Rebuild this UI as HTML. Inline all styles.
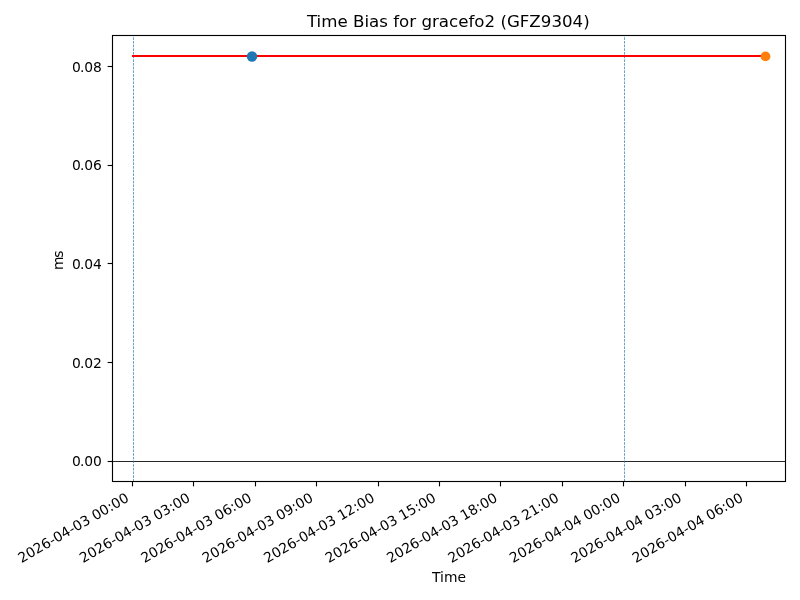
<!DOCTYPE html>
<html lang="en">
<head>
<meta charset="utf-8">
<title>Time Bias for gracefo2 (GFZ9304)</title>
<style>
html,body{margin:0;padding:0;background:#fff;}
body{width:800px;height:600px;overflow:hidden;}
svg{display:block;}
svg text{font-family:'DejaVu Sans', 'Liberation Sans', sans-serif;fill:#000;}
.t10{font-size:13.889px;}
.t12{font-size:16.667px;}
</style>
</head>
<body>
<svg width="800" height="600" viewBox="0 0 800 600">
<rect x="0" y="0" width="800" height="600" fill="#ffffff"/>
<g stroke="#000" stroke-width="1.111" fill="none">
<line x1="132.5" y1="481.5" x2="132.5" y2="486.36"/>
<line x1="193.5" y1="481.5" x2="193.5" y2="486.36"/>
<line x1="255.5" y1="481.5" x2="255.5" y2="486.36"/>
<line x1="316.5" y1="481.5" x2="316.5" y2="486.36"/>
<line x1="378.5" y1="481.5" x2="378.5" y2="486.36"/>
<line x1="439.5" y1="481.5" x2="439.5" y2="486.36"/>
<line x1="500.5" y1="481.5" x2="500.5" y2="486.36"/>
<line x1="562.5" y1="481.5" x2="562.5" y2="486.36"/>
<line x1="623.5" y1="481.5" x2="623.5" y2="486.36"/>
<line x1="685.5" y1="481.5" x2="685.5" y2="486.36"/>
<line x1="746.5" y1="481.5" x2="746.5" y2="486.36"/>
<line x1="112.5" y1="461.5" x2="107.64" y2="461.5"/>
<line x1="112.5" y1="362.5" x2="107.64" y2="362.5"/>
<line x1="112.5" y1="263.5" x2="107.64" y2="263.5"/>
<line x1="112.5" y1="165.5" x2="107.64" y2="165.5"/>
<line x1="112.5" y1="66.5" x2="107.64" y2="66.5"/>
</g>
<g class="t10" text-anchor="end">
<text transform="translate(129.84 500.67) rotate(-30)">2026-04-03 00:00</text>
<text transform="translate(191.27 500.67) rotate(-30)">2026-04-03 03:00</text>
<text transform="translate(252.70 500.67) rotate(-30)">2026-04-03 06:00</text>
<text transform="translate(314.13 500.67) rotate(-30)">2026-04-03 09:00</text>
<text transform="translate(375.56 500.67) rotate(-30)">2026-04-03 12:00</text>
<text transform="translate(436.99 500.67) rotate(-30)">2026-04-03 15:00</text>
<text transform="translate(498.42 500.67) rotate(-30)">2026-04-03 18:00</text>
<text transform="translate(559.85 500.67) rotate(-30)">2026-04-03 21:00</text>
<text transform="translate(621.28 500.67) rotate(-30)">2026-04-04 00:00</text>
<text transform="translate(682.71 500.67) rotate(-30)">2026-04-04 03:00</text>
<text transform="translate(744.14 500.67) rotate(-30)">2026-04-04 06:00</text>
</g>
<text class="t10" text-anchor="middle" x="449" y="581.55">Time</text>
<g class="t10" text-anchor="end">
<text x="101.8" y="466.4">0<tspan dx="-1.0">.</tspan><tspan dx="-0.2">00</tspan></text>
<text x="101.8" y="368.4">0<tspan dx="-1.0">.</tspan><tspan dx="-0.2">02</tspan></text>
<text x="101.8" y="269.4">0<tspan dx="-1.0">.</tspan><tspan dx="-0.2">04</tspan></text>
<text x="101.8" y="170.4">0<tspan dx="-1.0">.</tspan><tspan dx="-0.2">06</tspan></text>
<text x="101.8" y="72.4">0<tspan dx="-1.0">.</tspan><tspan dx="-0.2">08</tspan></text>
</g>
<text class="t10" text-anchor="middle" transform="translate(63.41 260.2) rotate(-90)">m<tspan dx="-1.2">s</tspan></text>
<line x1="112.5" y1="461.5" x2="785.5" y2="461.5" stroke="#000" stroke-width="0.85"/>
<line x1="133.5" y1="481.5" x2="133.5" y2="35.5" stroke="#1f77b4" stroke-width="0.694" stroke-dasharray="2.569 1.111"/>
<line x1="624.5" y1="481.5" x2="624.5" y2="35.5" stroke="#1f77b4" stroke-width="0.694" stroke-dasharray="2.569 1.111"/>
<line x1="133" y1="56" x2="765.5" y2="56" stroke="#ff0000" stroke-width="2.083" stroke-linecap="square"/>
<circle cx="252" cy="56.5" r="5.2" fill="#1f77b4"/>
<circle cx="765.5" cy="56.4" r="4.9" fill="#ff7f0e"/>
<rect x="112.5" y="35.5" width="673.0" height="446.0" fill="none" stroke="#000" stroke-width="1.111" stroke-linejoin="miter"/>
<text class="t12" text-anchor="middle" x="448.3" y="27.17">Time Bias for gracefo2 (GFZ9304)</text>
</svg>
</body>
</html>
